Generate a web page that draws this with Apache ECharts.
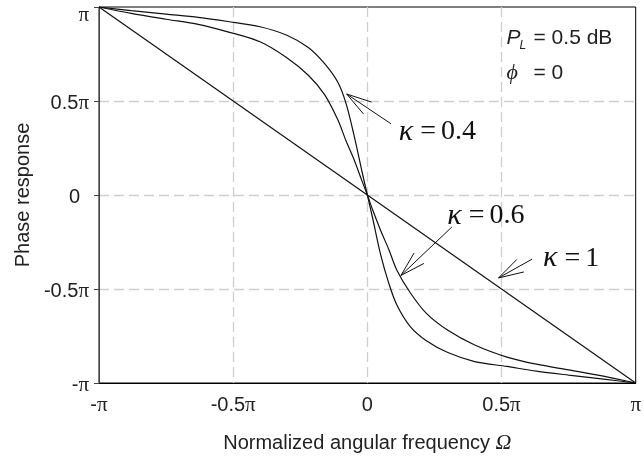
<!DOCTYPE html>
<html><head><meta charset="utf-8">
<script src="https://cdn.jsdelivr.net/npm/echarts@6/dist/echarts.min.js"></script>
<style>html,body{margin:0;padding:0;background:#fff}#c{width:644px;height:459px}</style>
</head><body><div id="c"></div>
<script>
// Normalized angular frequency (units of pi)
const omega = [-1,-0.88,-0.75,-0.63,-0.52,-0.4,-0.3,-0.22,-0.16,-0.11,-0.08,-0.05,-0.02,0,0.02,0.05,0.08,0.11,0.16,0.22,0.3,0.4,0.52,0.63,0.75,0.88,1];
// Phase response (units of pi)
const phaseK04 = [1,0.981,0.962,0.945,0.923,0.895,0.85,0.785,0.70,0.60,0.49,0.32,0.125,0,-0.125,-0.32,-0.47,-0.585,-0.70,-0.775,-0.838,-0.886,-0.912,-0.937,-0.958,-0.979,-1];
const phaseK06 = [1,0.966,0.935,0.908,0.868,0.815,0.73,0.637,0.535,0.40,0.29,0.19,0.075,0,-0.08,-0.19,-0.29,-0.40,-0.52,-0.63,-0.72,-0.798,-0.862,-0.90,-0.93,-0.963,-1];
const omegaK1 = [-1, 1];
const phaseK1 = [1, -1];
const tickValues = [-1,-0.5,0,0.5,1];
const tickLabels = ['-π','-0.5π','0','0.5π','π'];
// annotations (data units)
const kappaNames = ['0.4','0.6','1'];
const kappaLabelPos = [[0.117,0.337],[0.298,-0.111],[0.655,-0.337]];
const arrowTips = [[-0.077,0.537],[0.125,-0.428],[0.489,-0.441]];
const arrowTails = [[0.088,0.379],[0.315,-0.170],[0.614,-0.341]];
const specPos = [0.5, 0.837];
const phiPos = [0.5, 0.653];

const SANS = 'Liberation Sans, Arial, sans-serif';
const SERIF = 'Liberation Serif, Times New Roman, serif';

function pairs(xs, ys){ return xs.map((x,i)=>[x, ys[i]]); }
function lbl(v){
  const i = tickValues.findIndex(t => Math.abs(t - v) < 1e-9);
  return i < 0 ? '' : tickLabels[i];
}
function richLabel(s){ return s.replace('π','{p|π}'); }

const chart = echarts.init(document.getElementById('c'), null, {renderer:'canvas'});
const lineStyle = {color:'#111', width:1.2};
const option = {
  animation:false,
  backgroundColor:'#fff',
  grid:{left:99, right:1, top:7, bottom:72, show:true, borderColor:'#000', borderWidth:1},
  xAxis:{
    type:'value', min:-1, max:1, interval:0.5,
    name:'Normalized angular frequency {o|Ω}', nameLocation:'middle', nameGap:49,
    nameTextStyle:{fontFamily:SANS, fontSize:20, color:'#222',
      rich:{o:{fontFamily:SERIF, fontStyle:'italic', fontSize:22, color:'#222'}}},
    axisLine:{onZero:false, lineStyle:{color:'#000', width:1}},
    axisTick:{show:false},
    axisLabel:{margin:12, fontFamily:SANS, fontSize:20, color:'#222',
      formatter:v => richLabel(lbl(v)),
      rich:{p:{fontFamily:SERIF, fontSize:21, color:'#222'}}},
    splitLine:{show:true, showMinLine:false, showMaxLine:false, lineStyle:{color:'#cfcfcf', type:[10,5], width:1.3}}
  },
  yAxis:{
    type:'value', min:-1, max:1, interval:0.5,
    name:'Phase response', nameLocation:'middle', nameGap:64, nameRotate:90,
    nameTextStyle:{fontFamily:SANS, fontSize:20, color:'#222'},
    axisLine:{show:true, onZero:false, lineStyle:{color:'#444', width:1}},
    axisTick:{show:true, length:5, lineStyle:{color:'#444'}},
    axisLabel:{margin:10, fontFamily:SANS, fontSize:20, color:'#222',
      formatter:v => {
        const s = lbl(v);
        if (Math.abs(v-1) < 1e-9) return '{top|π}';
        if (s === '0') return '{z|0}';
        return '{d|' + s.replace('π','') + '}{p|π}';
      },
      rich:{
        p:{fontFamily:SERIF, fontSize:21, color:'#222', padding:[4,0,0,0]},
        d:{fontFamily:SANS, fontSize:20, color:'#222', padding:[4,0,0,0]},
        top:{fontFamily:SERIF, fontSize:21, color:'#222', padding:[16,0,0,0]},
        z:{fontFamily:SANS, fontSize:20, color:'#222', padding:[4,9,0,0]}
      }},
    splitLine:{show:true, showMinLine:false, showMaxLine:false, lineStyle:{color:'#cfcfcf', type:[10,5], width:1.3}}
  },
  series:[
    {type:'line', name:'k=1', data:pairs(omegaK1, phaseK1), showSymbol:false, lineStyle, z:3},
    {type:'line', name:'k=0.6', data:pairs(omega, phaseK06), showSymbol:false, smooth:0.3, lineStyle, z:3},
    {type:'line', name:'k=0.4', data:pairs(omega, phaseK04), showSymbol:false, smooth:0.3, lineStyle, z:3}
  ]
};
chart.setOption(option);

const toPx = p => chart.convertToPixel({gridIndex:0}, p);
const g = [];
const BARB = 26, ANG = 16*Math.PI/180;
arrowTips.forEach((tip, i) => {
  const a = toPx(tip), b = toPx(arrowTails[i]);
  const th = Math.atan2(b[1]-a[1], b[0]-a[0]);
  const b1 = [a[0] + BARB*Math.cos(th+ANG), a[1] + BARB*Math.sin(th+ANG)];
  const b2 = [a[0] + BARB*Math.cos(th-ANG), a[1] + BARB*Math.sin(th-ANG)];
  g.push({type:'polyline', z:10, shape:{points:[b, a]}, style:{stroke:'#111', lineWidth:1, fill:null}});
  g.push({type:'polyline', z:10, shape:{points:[b1, a, b2]}, style:{stroke:'#111', lineWidth:1, fill:null}});
  const lp = toPx(kappaLabelPos[i]);
  g.push({type:'text', z:10, x:lp[0], y:lp[1], style:{
    text:'{k|κ}{e|=}{n|' + kappaNames[i] + '}', verticalAlign:'middle', align:'left',
    rich:{
      k:{fontFamily:SERIF, fontStyle:'italic', fontSize:30, fill:'#111'},
      e:{fontFamily:SERIF, fontSize:28, fill:'#111', padding:[0,5,0,7]},
      n:{fontFamily:SERIF, fontSize:28, fill:'#111'}
    }}});
});
const sp = toPx(specPos);
g.push({type:'text', z:10, x:sp[0]+5, y:sp[1]+1, style:{text:'P', fontFamily:SANS, fontStyle:'italic', fontSize:21, fill:'#222', verticalAlign:'middle'}});
g.push({type:'text', z:10, x:sp[0]+18, y:sp[1]+8, style:{text:'L', fontFamily:SANS, fontStyle:'italic', fontSize:12, fill:'#222', verticalAlign:'middle'}});
g.push({type:'text', z:10, x:sp[0]+32, y:sp[1]+1, style:{text:'= 0.5 dB', fontFamily:SANS, fontSize:21, fill:'#222', verticalAlign:'middle'}});
const pp = toPx(phiPos);
g.push({type:'text', z:10, x:pp[0]+5, y:pp[1]+1, style:{text:'ϕ', fontFamily:SERIF, fontStyle:'italic', fontSize:22, fill:'#222', verticalAlign:'middle'}});
g.push({type:'text', z:10, x:pp[0]+32, y:pp[1]+1, style:{text:'= 0', fontFamily:SANS, fontSize:21, fill:'#222', verticalAlign:'middle'}});
chart.setOption({graphic:g});
</script>
</body></html>
